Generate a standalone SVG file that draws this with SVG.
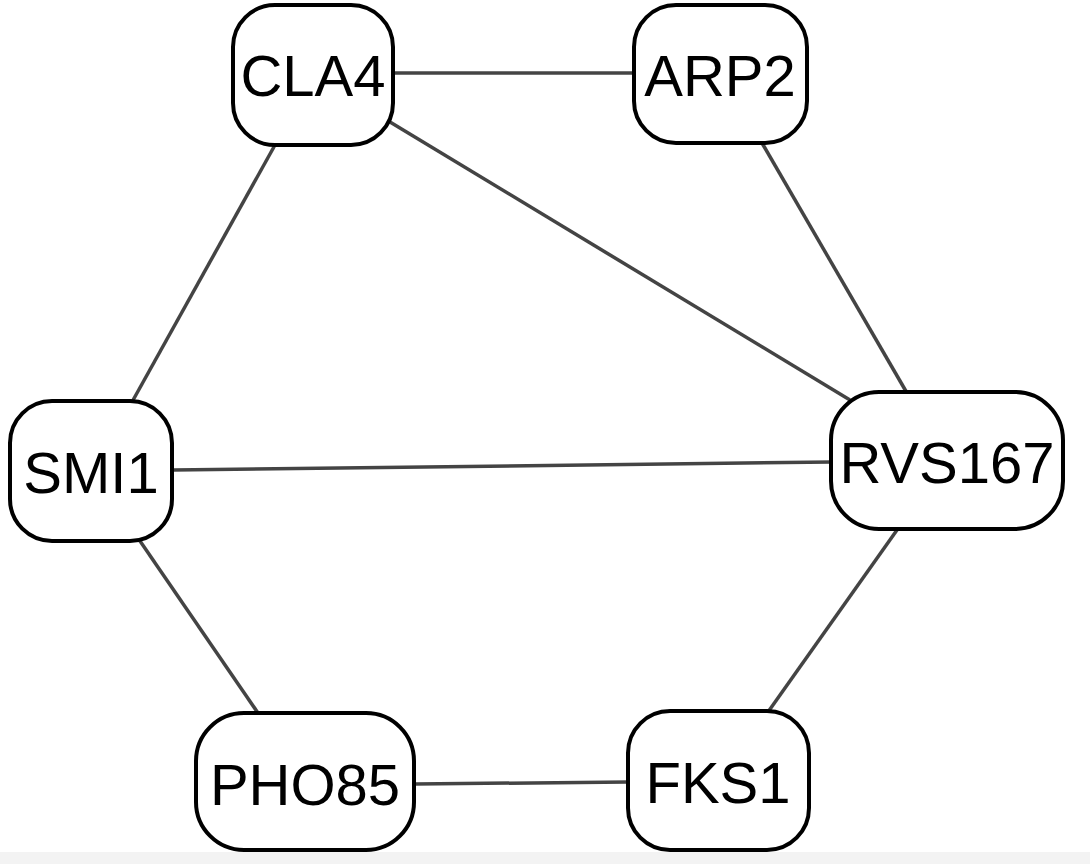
<svg xmlns="http://www.w3.org/2000/svg" width="1090" height="864" viewBox="0 0 1090 864">
<style>
.node rect{fill:#fff;stroke:#000;stroke-width:4}
.node text{font-family:"Liberation Sans",Arial,sans-serif;font-size:58px;fill:#000;text-anchor:middle;dominant-baseline:central}
#edges line{stroke:#444;stroke-width:3.5}
</style>
<rect x="0" y="0" width="1090" height="864" fill="#fff"/>
<rect x="0" y="852" width="1090" height="12" fill="#f3f3f3"/>
<g id="edges">
<line x1="393" y1="73" x2="633" y2="73"/>
<line x1="390" y1="122" x2="850" y2="400"/>
<line x1="275" y1="145" x2="132" y2="402"/>
<line x1="762" y1="143" x2="907" y2="393"/>
<line x1="173" y1="470" x2="832" y2="462"/>
<line x1="140" y1="541" x2="258" y2="713"/>
<line x1="897" y1="530" x2="768" y2="712"/>
<line x1="415" y1="784" x2="628" y2="782"/>
</g>
<g id="CLA4" class="node"><rect x="233" y="5" width="160" height="140" rx="42"/><text x="313" y="75">CLA4</text></g>
<g id="ARP2" class="node"><rect x="634" y="5" width="173" height="138" rx="42"/><text x="720" y="75">ARP2</text></g>
<g id="SMI1" class="node"><rect x="10" y="401" width="162" height="140" rx="42"/><text x="91" y="472">SMI1</text></g>
<g id="RVS167" class="node"><rect x="831" y="392" width="232" height="137" rx="48"/><text x="947" y="462">RVS167</text></g>
<g id="PHO85" class="node"><rect x="196" y="713" width="218" height="137" rx="48"/><text x="305" y="784">PHO85</text></g>
<g id="FKS1" class="node"><rect x="628" y="711" width="181" height="139" rx="42"/><text x="718" y="782">FKS1</text></g>
</svg>
